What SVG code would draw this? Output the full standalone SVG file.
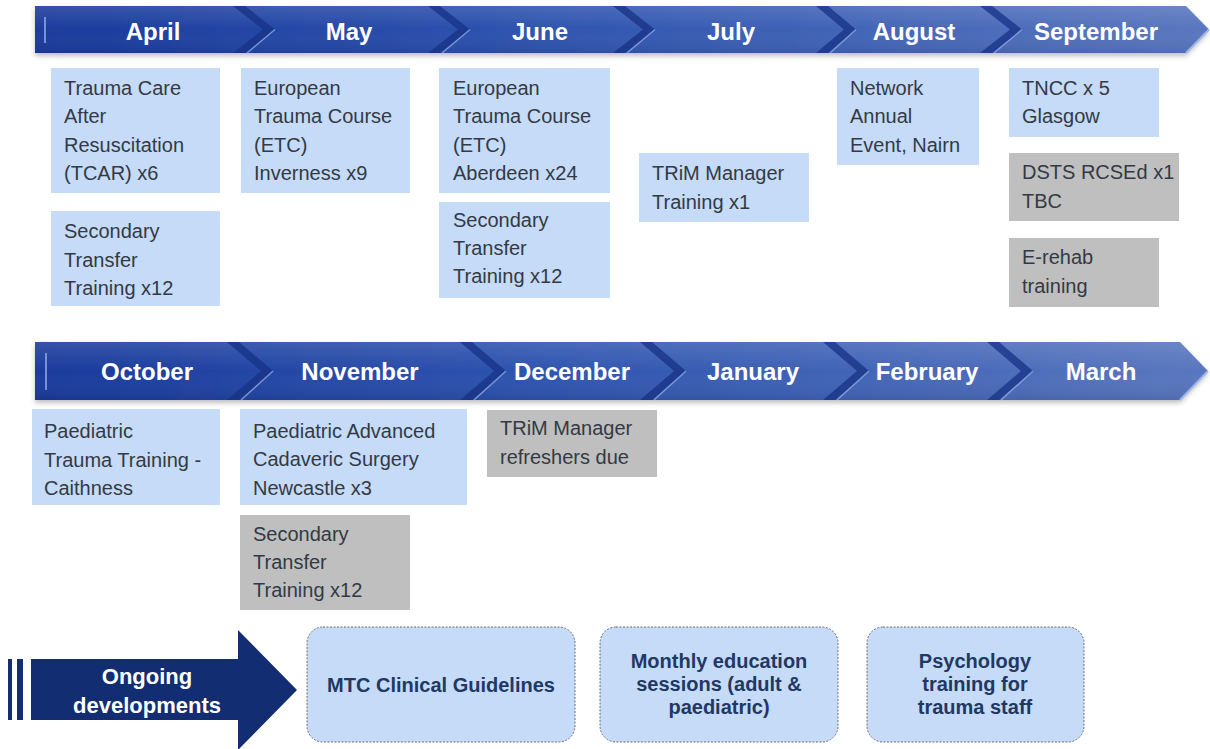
<svg xmlns="http://www.w3.org/2000/svg" width="1210" height="749" viewBox="0 0 1210 749">
  <defs>
    <linearGradient id="bandGrad" gradientUnits="userSpaceOnUse" x1="35" y1="0" x2="1210" y2="0">
      <stop offset="0" stop-color="#1a3a9c"/>
      <stop offset="0.45" stop-color="#2f55b0"/>
      <stop offset="1" stop-color="#5a77bf"/>
    </linearGradient>
    <linearGradient id="bandShade" x1="0" y1="0" x2="0" y2="1">
      <stop offset="0" stop-color="#ffffff" stop-opacity="0.12"/>
      <stop offset="0.5" stop-color="#ffffff" stop-opacity="0"/>
      <stop offset="1" stop-color="#000000" stop-opacity="0.08"/>
    </linearGradient>
    <filter id="shadow" x="-5%" y="-20%" width="110%" height="160%">
      <feGaussianBlur in="SourceAlpha" stdDeviation="2.5"/>
      <feOffset dy="3" result="b"/>
      <feFlood flood-color="#000" flood-opacity="0.25"/>
      <feComposite in2="b" operator="in"/>
      <feMerge><feMergeNode/><feMergeNode in="SourceGraphic"/></feMerge>
    </filter>
    <linearGradient id="sepGrad" x1="0" y1="0" x2="1" y2="0">
      <stop offset="0" stop-color="#7d8590"/>
      <stop offset="1" stop-color="#a9b0b8"/>
    </linearGradient>
  </defs>
  <style>
    .month { font-family: "Liberation Sans", Arial, sans-serif; font-size: 24px; font-weight: bold; fill: #ffffff; text-anchor: middle; }
    .chev { fill: #173185; opacity: 0.75; }
    .chevhi { fill: none; stroke: #8fa8e0; stroke-width: 1.5; opacity: 0.8; }
    .edge { stroke: #7f9be0; stroke-width: 2; opacity: 0.9; }
    .blue { fill: #c5dbf7; }
    .grey { fill: #bfbfbf; }
    .t { font-family: "Liberation Sans", Arial, sans-serif; font-size: 20px; fill: #333a45; }
    .ongo { font-family: "Liberation Sans", Arial, sans-serif; font-size: 22px; font-weight: bold; fill: #ffffff; text-anchor: middle; }
    .rbox { fill: #c5dbf7; stroke: #6b6f75; stroke-width: 1; stroke-dasharray: 2 1.5; }
    .bt { font-family: "Liberation Sans", Arial, sans-serif; font-size: 20px; font-weight: bold; fill: #1f3864; text-anchor: middle; }
  </style>

  <rect width="1210" height="749" fill="#ffffff"/>

  <!-- Top timeline band -->
  <g id="band-top">
    <path d="M35,6 H1186 L1209,29.5 L1186,53 H35 Z" fill="url(#bandGrad)" filter="url(#shadow)"/>
    <path d="M35,6 H1186 L1209,29.5 L1186,53 H35 Z" fill="url(#bandShade)"/>
    <line class="edge" x1="45" y1="17" x2="45" y2="43"/>
    <path class="chev" d="M233,6 H245 L275,29.5 L245,53 H233 L263,29.5 Z"/>
    <path class="chevhi" d="M275,29.5 L247,53"/>
    <path class="chev" d="M428,6 H440 L470,29.5 L440,53 H428 L458,29.5 Z"/>
    <path class="chevhi" d="M470,29.5 L442,53"/>
    <path class="chev" d="M613,6 H625 L655,29.5 L625,53 H613 L643,29.5 Z"/>
    <path class="chevhi" d="M655,29.5 L627,53"/>
    <path class="chev" d="M816,6 H828 L856,29.5 L828,53 H816 L844,29.5 Z"/>
    <path class="chevhi" d="M856,29.5 L830,53"/>
    <path class="chev" d="M980,6 H992 L1022,29.5 L992,53 H980 L1010,29.5 Z"/>
    <path class="chevhi" d="M1022,29.5 L994,53"/>
    <path d="M1186,53 L1209,29.5" stroke="#9fb6ea" stroke-width="2" fill="none"/>
  </g>
  <g id="m-april"><text class="month" x="153" y="40">April</text></g>
  <g id="m-may"><text class="month" x="349" y="40">May</text></g>
  <g id="m-june"><text class="month" x="540" y="40">June</text></g>
  <g id="m-july"><text class="month" x="731" y="40">July</text></g>
  <g id="m-august"><text class="month" x="914" y="40">August</text></g>
  <g id="m-september"><text class="month" x="1096" y="40">September</text></g>

  <!-- Top row events -->
  <g id="ev-tcar">
    <rect class="blue" x="51" y="68" width="169" height="125"/>
    <text class="t" x="64" y="95">Trauma Care</text>
    <text class="t" x="64" y="123">After</text>
    <text class="t" x="64" y="152">Resuscitation</text>
    <text class="t" x="64" y="180">(TCAR) x6</text>
  </g>
  <g id="ev-april-stt">
    <rect class="blue" x="51" y="211" width="169" height="95"/>
    <text class="t" x="64" y="238">Secondary</text>
    <text class="t" x="64" y="267">Transfer</text>
    <text class="t" x="64" y="295">Training x12</text>
  </g>
  <g id="ev-etc-inverness">
    <rect class="blue" x="241" y="68" width="169" height="125"/>
    <text class="t" x="254" y="95">European</text>
    <text class="t" x="254" y="123">Trauma Course</text>
    <text class="t" x="254" y="152">(ETC)</text>
    <text class="t" x="254" y="180">Inverness x9</text>
  </g>
  <g id="ev-etc-aberdeen">
    <rect class="blue" x="439" y="68" width="171" height="125"/>
    <text class="t" x="453" y="95">European</text>
    <text class="t" x="453" y="123">Trauma Course</text>
    <text class="t" x="453" y="152">(ETC)</text>
    <text class="t" x="453" y="180">Aberdeen x24</text>
  </g>
  <g id="ev-june-stt">
    <rect class="blue" x="439" y="202" width="171" height="96"/>
    <text class="t" x="453" y="227">Secondary</text>
    <text class="t" x="453" y="255">Transfer</text>
    <text class="t" x="453" y="283">Training x12</text>
  </g>
  <g id="ev-trim">
    <rect class="blue" x="639" y="153" width="170" height="69"/>
    <text class="t" x="652" y="180">TRiM Manager</text>
    <text class="t" x="652" y="209">Training x1</text>
  </g>
  <g id="ev-network">
    <rect class="blue" x="837" y="68" width="142" height="97"/>
    <text class="t" x="850" y="95">Network</text>
    <text class="t" x="850" y="123">Annual</text>
    <text class="t" x="850" y="152">Event, Nairn</text>
  </g>
  <g id="ev-tncc">
    <rect class="blue" x="1009" y="68" width="150" height="69"/>
    <text class="t" x="1022" y="95">TNCC x 5</text>
    <text class="t" x="1022" y="123">Glasgow</text>
  </g>
  <g id="ev-dsts">
    <rect class="grey" x="1009" y="153" width="170" height="68"/>
    <text class="t" x="1022" y="179">DSTS RCSEd x1</text>
    <text class="t" x="1022" y="208">TBC</text>
  </g>
  <g id="ev-erehab">
    <rect class="grey" x="1009" y="238" width="150" height="69"/>
    <text class="t" x="1022" y="264">E-rehab</text>
    <text class="t" x="1022" y="293">training</text>
  </g>

  <!-- Bottom timeline band -->
  <g id="band-bottom">
    <path d="M35,342 H1180 L1208,371 L1180,400 H35 Z" fill="url(#bandGrad)" filter="url(#shadow)"/>
    <path d="M35,342 H1180 L1208,371 L1180,400 H35 Z" fill="url(#bandShade)"/>
    <line class="edge" x1="46" y1="353" x2="46" y2="390"/>
    <path class="chev" d="M227,342 H239 L273,371 L239,400 H227 L261,371 Z"/>
    <path class="chevhi" d="M273,371 L241,400"/>
    <path class="chev" d="M460,342 H472 L506,371 L472,400 H460 L494,371 Z"/>
    <path class="chevhi" d="M506,371 L474,400"/>
    <path class="chev" d="M640,342 H652 L686,371 L652,400 H640 L674,371 Z"/>
    <path class="chevhi" d="M686,371 L654,400"/>
    <path class="chev" d="M823,342 H835 L869,371 L835,400 H823 L857,371 Z"/>
    <path class="chevhi" d="M869,371 L837,400"/>
    <path class="chev" d="M987,342 H999 L1033,371 L999,400 H987 L1021,371 Z"/>
    <path class="chevhi" d="M1033,371 L1001,400"/>
    <path d="M1180,400 L1208,371" stroke="#9fb6ea" stroke-width="2" fill="none"/>
  </g>
  <g id="m-october"><text class="month" x="147" y="380">October</text></g>
  <g id="m-november"><text class="month" x="360" y="380">November</text></g>
  <g id="m-december"><text class="month" x="572" y="380">December</text></g>
  <g id="m-january"><text class="month" x="753" y="380">January</text></g>
  <g id="m-february"><text class="month" x="927" y="380">February</text></g>
  <g id="m-march"><text class="month" x="1101" y="380">March</text></g>

  <!-- Bottom row events -->
  <g id="ev-paed-trauma">
    <rect class="blue" x="32" y="409" width="188" height="96"/>
    <text class="t" x="44" y="438">Paediatric</text>
    <text class="t" x="44" y="467">Trauma Training -</text>
    <text class="t" x="44" y="495">Caithness</text>
  </g>
  <g id="ev-cadaveric">
    <rect class="blue" x="240" y="409" width="227" height="96"/>
    <text class="t" x="253" y="438">Paediatric Advanced</text>
    <text class="t" x="253" y="466">Cadaveric Surgery</text>
    <text class="t" x="253" y="495">Newcastle x3</text>
  </g>
  <g id="ev-nov-stt">
    <rect class="grey" x="240" y="515" width="170" height="95"/>
    <text class="t" x="253" y="541">Secondary</text>
    <text class="t" x="253" y="569">Transfer</text>
    <text class="t" x="253" y="597">Training x12</text>
  </g>
  <g id="ev-trim-refresh">
    <rect class="grey" x="487" y="410" width="170" height="67"/>
    <text class="t" x="500" y="435">TRiM Manager</text>
    <text class="t" x="500" y="464">refreshers due</text>
  </g>

  <!-- Separator -->
  <line x1="0" y1="619" x2="1210" y2="619" stroke="url(#sepGrad)" stroke-width="2"/>

  <!-- Ongoing developments -->
  <g id="ongoing">
    <rect x="8" y="659" width="4" height="61" fill="#132d73"/>
    <rect x="17" y="659" width="6" height="61" fill="#132d73"/>
    <path d="M31,659 H238 V630 L297,690 L238,750 V720 H31 Z" fill="#132d73"/>
    <text class="ongo" x="147" y="684">Ongoing</text>
    <text class="ongo" x="147" y="713">developments</text>
  </g>
  <g id="dev-mtc">
    <rect class="rbox" x="307" y="627" width="268" height="115" rx="16"/>
    <text class="bt" x="441" y="692">MTC Clinical Guidelines</text>
  </g>
  <g id="dev-monthly">
    <rect class="rbox" x="600" y="627" width="238" height="115" rx="16"/>
    <text class="bt" x="719" y="668">Monthly education</text>
    <text class="bt" x="719" y="691">sessions (adult &amp;</text>
    <text class="bt" x="719" y="714">paediatric)</text>
  </g>
  <g id="dev-psychology">
    <rect class="rbox" x="867" y="627" width="217" height="115" rx="16"/>
    <text class="bt" x="975" y="668">Psychology</text>
    <text class="bt" x="975" y="691">training for</text>
    <text class="bt" x="975" y="714">trauma staff</text>
  </g>

  <g id="connectors"/>
</svg>
